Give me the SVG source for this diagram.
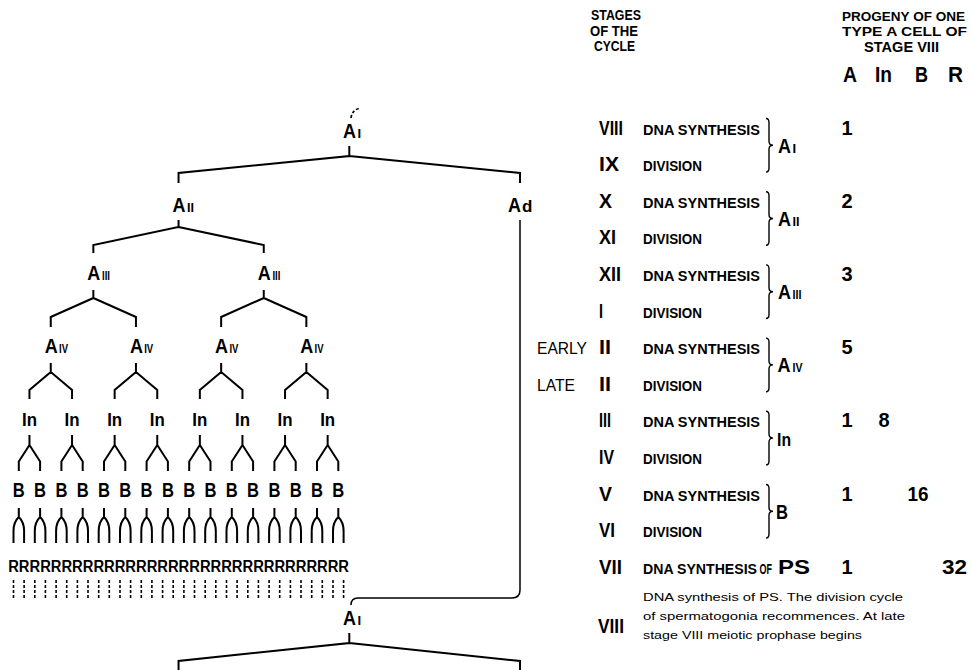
<svg xmlns="http://www.w3.org/2000/svg" width="972" height="670" viewBox="0 0 972 670">
<style>
.ln{fill:none;stroke:#000;stroke-width:2;stroke-linejoin:miter}
.thin{fill:none;stroke:#000;stroke-width:1.5}
.dash{fill:none;stroke:#000;stroke-width:1.6;stroke-dasharray:3 2}
.br{fill:none;stroke:#000;stroke-width:1.4}
text{font-family:"Liberation Sans",Arial,sans-serif;fill:#000}
.A{font-size:21px;font-weight:bold}
.sub{font-size:13px;font-weight:bold}
.lbl{font-size:19px;font-weight:bold}
.Bn{font-size:20px;font-weight:bold}
.R{font-size:16px;font-weight:bold}
.hdr{font-size:15px;font-weight:bold}
.hdr2{font-size:13.5px;font-weight:bold}
.col{font-size:22px;font-weight:bold}
.rn{font-size:20px;font-weight:bold}
.dna{font-size:14px;font-weight:bold}
.num{font-size:20px;font-weight:bold}
.el{font-size:17px}
.para{font-size:11.5px}
</style>
<rect width="972" height="670" fill="#fff"/>
<g id="connectors">
<path class="ln" d="M349.3,146 V156 L178.55,173 V183 M349.3,156 L520,173 V183"/>
<path class="ln" d="M178.55,220 V227 L93.35,245 V253 M178.55,227 L263.75,245 V253"/>
<path class="ln" d="M93.35,290 V298 L50.75,317 V327 M93.35,298 L135.95,317 V327 M263.75,290 V298 L221.15,317 V327 M263.75,298 L306.35,317 V327"/>
<path class="ln" d="M50.75,363 V372 L29.45,390 V399 M50.75,372 L72.05,390 V399 M135.95,363 V372 L114.65,390 V399 M135.95,372 L157.25,390 V399 M221.15,363 V372 L199.85,390 V399 M221.15,372 L242.45,390 V399 M306.35,363 V372 L285.05,390 V399 M306.35,372 L327.65,390 V399"/>
<path class="ln" d="M29.45,435 V445 L18.8,461.5 V471 M29.45,445 L40.1,461.5 V471 M72.05,435 V445 L61.4,461.5 V471 M72.05,445 L82.7,461.5 V471 M114.65,435 V445 L104,461.5 V471 M114.65,445 L125.3,461.5 V471 M157.25,435 V445 L146.6,461.5 V471 M157.25,445 L167.9,461.5 V471 M199.85,435 V445 L189.2,461.5 V471 M199.85,445 L210.5,461.5 V471 M242.45,435 V445 L231.8,461.5 V471 M242.45,445 L253.1,461.5 V471 M285.05,435 V445 L274.4,461.5 V471 M285.05,445 L295.7,461.5 V471 M327.65,435 V445 L317,461.5 V471 M327.65,445 L338.3,461.5 V471"/>
<path class="ln" d="M18.8,508 V517 M13.5,543 V531 Q13.5,522 18.8,517 Q24.1,522 24.1,531 V543 M40.1,508 V517 M34.8,543 V531 Q34.8,522 40.1,517 Q45.4,522 45.4,531 V543 M61.4,508 V517 M56.1,543 V531 Q56.1,522 61.4,517 Q66.7,522 66.7,531 V543 M82.7,508 V517 M77.4,543 V531 Q77.4,522 82.7,517 Q88,522 88,531 V543 M104,508 V517 M98.7,543 V531 Q98.7,522 104,517 Q109.3,522 109.3,531 V543 M125.3,508 V517 M120,543 V531 Q120,522 125.3,517 Q130.6,522 130.6,531 V543 M146.6,508 V517 M141.3,543 V531 Q141.3,522 146.6,517 Q151.9,522 151.9,531 V543 M167.9,508 V517 M162.6,543 V531 Q162.6,522 167.9,517 Q173.2,522 173.2,531 V543 M189.2,508 V517 M183.9,543 V531 Q183.9,522 189.2,517 Q194.5,522 194.5,531 V543 M210.5,508 V517 M205.2,543 V531 Q205.2,522 210.5,517 Q215.8,522 215.8,531 V543 M231.8,508 V517 M226.5,543 V531 Q226.5,522 231.8,517 Q237.1,522 237.1,531 V543 M253.1,508 V517 M247.8,543 V531 Q247.8,522 253.1,517 Q258.4,522 258.4,531 V543 M274.4,508 V517 M269.1,543 V531 Q269.1,522 274.4,517 Q279.7,522 279.7,531 V543 M295.7,508 V517 M290.4,543 V531 Q290.4,522 295.7,517 Q301,522 301,531 V543 M317,508 V517 M311.7,543 V531 Q311.7,522 317,517 Q322.3,522 322.3,531 V543 M338.3,508 V517 M333,543 V531 Q333,522 338.3,517 Q343.6,522 343.6,531 V543"/>
<path class="dash" d="M13.5,580 V598 M24.1,580 V598 M34.8,580 V598 M45.4,580 V598 M56.1,580 V598 M66.7,580 V598 M77.4,580 V598 M88,580 V598 M98.7,580 V598 M109.3,580 V598 M120,580 V598 M130.6,580 V598 M141.3,580 V598 M151.9,580 V598 M162.6,580 V598 M173.2,580 V598 M183.9,580 V598 M194.5,580 V598 M205.2,580 V598 M215.8,580 V598 M226.5,580 V598 M237.1,580 V598 M247.8,580 V598 M258.4,580 V598 M269.1,580 V598 M279.7,580 V598 M290.4,580 V598 M301,580 V598 M311.7,580 V598 M322.3,580 V598 M333,580 V598 M343.6,580 V598"/>
<path class="thin" d="M520,220 V590 Q520,598 512,598 H358 Q351,598 351,605"/>
<path class="ln" d="M349.3,633 V643 L178.55,661 V672 M349.3,643 L520,661 V672"/>
<path class="dash" stroke-width="1.3" stroke-dasharray="2.5 2" d="M351,118 Q352,110 360,108"/>
</g>
<g id="n-AI-top"><text class="A" x="343" y="138" textLength="13" lengthAdjust="spacingAndGlyphs">A</text><text class="sub" x="357.5" y="138">I</text></g>
<g id="n-AII"><text class="A" x="172.5" y="212" textLength="13" lengthAdjust="spacingAndGlyphs">A</text><text class="sub" x="187" y="212" textLength="7" lengthAdjust="spacingAndGlyphs">II</text></g>
<g id="n-Ad"><text class="A" x="508" y="212" textLength="13" lengthAdjust="spacingAndGlyphs">A</text><text x="522" y="212" font-size="17" font-weight="bold">d</text></g>
<g id="n-AIII-1"><text class="A" x="87.3" y="280" textLength="13" lengthAdjust="spacingAndGlyphs">A</text><text class="sub" x="102" y="280" textLength="8" lengthAdjust="spacingAndGlyphs">III</text></g>
<g id="n-AIII-2"><text class="A" x="257.7" y="280" textLength="13" lengthAdjust="spacingAndGlyphs">A</text><text class="sub" x="272.4" y="280" textLength="8" lengthAdjust="spacingAndGlyphs">III</text></g>
<g id="n-AIV-1"><text class="A" x="44.7" y="353" textLength="13" lengthAdjust="spacingAndGlyphs">A</text><text class="sub" x="59" y="353" textLength="9" lengthAdjust="spacingAndGlyphs">IV</text></g>
<g id="n-AIV-2"><text class="A" x="129.9" y="353" textLength="13" lengthAdjust="spacingAndGlyphs">A</text><text class="sub" x="144.2" y="353" textLength="9" lengthAdjust="spacingAndGlyphs">IV</text></g>
<g id="n-AIV-3"><text class="A" x="215.1" y="353" textLength="13" lengthAdjust="spacingAndGlyphs">A</text><text class="sub" x="229.4" y="353" textLength="9" lengthAdjust="spacingAndGlyphs">IV</text></g>
<g id="n-AIV-4"><text class="A" x="300.3" y="353" textLength="13" lengthAdjust="spacingAndGlyphs">A</text><text class="sub" x="314.6" y="353" textLength="9" lengthAdjust="spacingAndGlyphs">IV</text></g>
<g id="n-In" text-anchor="middle">
<text class="lbl" x="29.45" y="426" textLength="15" lengthAdjust="spacingAndGlyphs">In</text>
<text class="lbl" x="72.05" y="426" textLength="15" lengthAdjust="spacingAndGlyphs">In</text>
<text class="lbl" x="114.65" y="426" textLength="15" lengthAdjust="spacingAndGlyphs">In</text>
<text class="lbl" x="157.25" y="426" textLength="15" lengthAdjust="spacingAndGlyphs">In</text>
<text class="lbl" x="199.85" y="426" textLength="15" lengthAdjust="spacingAndGlyphs">In</text>
<text class="lbl" x="242.45" y="426" textLength="15" lengthAdjust="spacingAndGlyphs">In</text>
<text class="lbl" x="285.05" y="426" textLength="15" lengthAdjust="spacingAndGlyphs">In</text>
<text class="lbl" x="327.65" y="426" textLength="15" lengthAdjust="spacingAndGlyphs">In</text>
</g>
<g id="n-B" text-anchor="middle">
<text class="Bn" x="18.8" y="497" textLength="12" lengthAdjust="spacingAndGlyphs">B</text>
<text class="Bn" x="40.1" y="497" textLength="12" lengthAdjust="spacingAndGlyphs">B</text>
<text class="Bn" x="61.4" y="497" textLength="12" lengthAdjust="spacingAndGlyphs">B</text>
<text class="Bn" x="82.7" y="497" textLength="12" lengthAdjust="spacingAndGlyphs">B</text>
<text class="Bn" x="104" y="497" textLength="12" lengthAdjust="spacingAndGlyphs">B</text>
<text class="Bn" x="125.3" y="497" textLength="12" lengthAdjust="spacingAndGlyphs">B</text>
<text class="Bn" x="146.6" y="497" textLength="12" lengthAdjust="spacingAndGlyphs">B</text>
<text class="Bn" x="167.9" y="497" textLength="12" lengthAdjust="spacingAndGlyphs">B</text>
<text class="Bn" x="189.2" y="497" textLength="12" lengthAdjust="spacingAndGlyphs">B</text>
<text class="Bn" x="210.5" y="497" textLength="12" lengthAdjust="spacingAndGlyphs">B</text>
<text class="Bn" x="231.8" y="497" textLength="12" lengthAdjust="spacingAndGlyphs">B</text>
<text class="Bn" x="253.1" y="497" textLength="12" lengthAdjust="spacingAndGlyphs">B</text>
<text class="Bn" x="274.4" y="497" textLength="12" lengthAdjust="spacingAndGlyphs">B</text>
<text class="Bn" x="295.7" y="497" textLength="12" lengthAdjust="spacingAndGlyphs">B</text>
<text class="Bn" x="317" y="497" textLength="12" lengthAdjust="spacingAndGlyphs">B</text>
<text class="Bn" x="338.3" y="497" textLength="12" lengthAdjust="spacingAndGlyphs">B</text>
</g>
<g id="n-R"><text class="R" x="8.2" y="572" textLength="340.8" lengthAdjust="spacingAndGlyphs">RRRRRRRRRRRRRRRRRRRRRRRRRRRRRRRR</text></g>
<g id="n-AI-bottom"><text class="A" x="343" y="625" textLength="13" lengthAdjust="spacingAndGlyphs">A</text><text class="sub" x="357.5" y="625">I</text></g>
<g id="header-stages">
<text class="hdr" x="591" y="20" textLength="50" lengthAdjust="spacingAndGlyphs">STAGES</text>
<text class="hdr" x="590" y="35.5" textLength="48" lengthAdjust="spacingAndGlyphs">OF THE</text>
<text class="hdr" x="594" y="51" textLength="41" lengthAdjust="spacingAndGlyphs">CYCLE</text>
</g>
<g id="header-progeny">
<text class="hdr2" x="842" y="20.5" textLength="123" lengthAdjust="spacingAndGlyphs">PROGENY OF ONE</text>
<text class="hdr2" x="842" y="36" textLength="125" lengthAdjust="spacingAndGlyphs">TYPE A CELL OF</text>
<text class="hdr" x="864" y="51.5" textLength="75" lengthAdjust="spacingAndGlyphs">STAGE VIII</text>
<g text-anchor="middle">
<text class="col" x="850" y="82" textLength="14" lengthAdjust="spacingAndGlyphs">A</text>
<text class="col" x="883.5" y="82" textLength="17" lengthAdjust="spacingAndGlyphs">In</text>
<text class="col" x="921.5" y="82" textLength="13" lengthAdjust="spacingAndGlyphs">B</text>
<text class="col" x="955.5" y="82" textLength="15" lengthAdjust="spacingAndGlyphs">R</text>
</g>
</g>
<g id="stage-labels">
<text class="rn" x="599" y="134.5" textLength="24" lengthAdjust="spacingAndGlyphs">VIII</text>
<text class="rn" x="599" y="171.1" textLength="20" lengthAdjust="spacingAndGlyphs">IX</text>
<text class="rn" x="599" y="207.7" textLength="13" lengthAdjust="spacingAndGlyphs">X</text>
<text class="rn" x="599" y="244.3" textLength="17" lengthAdjust="spacingAndGlyphs">XI</text>
<text class="rn" x="599" y="280.9" textLength="22" lengthAdjust="spacingAndGlyphs">XII</text>
<text class="rn" x="599" y="317.5" textLength="4" lengthAdjust="spacingAndGlyphs">I</text>
<text class="rn" x="599" y="354.1" textLength="12" lengthAdjust="spacingAndGlyphs">II</text>
<text class="rn" x="599" y="390.7" textLength="12" lengthAdjust="spacingAndGlyphs">II</text>
<text class="rn" x="599" y="427.3" textLength="12" lengthAdjust="spacingAndGlyphs">III</text>
<text class="rn" x="599" y="463.9" textLength="15" lengthAdjust="spacingAndGlyphs">IV</text>
<text class="rn" x="599" y="500.5" textLength="13" lengthAdjust="spacingAndGlyphs">V</text>
<text class="rn" x="599" y="537.1" textLength="16" lengthAdjust="spacingAndGlyphs">VI</text>
<text class="rn" x="599" y="573.7" textLength="23" lengthAdjust="spacingAndGlyphs">VII</text>
<text class="rn" x="598" y="633" textLength="26" lengthAdjust="spacingAndGlyphs">VIII</text>
<text class="el" x="537" y="354.1" textLength="50" lengthAdjust="spacingAndGlyphs">EARLY</text>
<text class="el" x="537" y="390.7" textLength="38" lengthAdjust="spacingAndGlyphs">LATE</text>
</g>
<g id="stage-events">
<text class="dna" x="643" y="134.5" textLength="117" lengthAdjust="spacingAndGlyphs">DNA SYNTHESIS</text>
<text class="dna" x="643" y="171.1" textLength="59" lengthAdjust="spacingAndGlyphs">DIVISION</text>
<text class="dna" x="643" y="207.7" textLength="117" lengthAdjust="spacingAndGlyphs">DNA SYNTHESIS</text>
<text class="dna" x="643" y="244.3" textLength="59" lengthAdjust="spacingAndGlyphs">DIVISION</text>
<text class="dna" x="643" y="280.9" textLength="117" lengthAdjust="spacingAndGlyphs">DNA SYNTHESIS</text>
<text class="dna" x="643" y="317.5" textLength="59" lengthAdjust="spacingAndGlyphs">DIVISION</text>
<text class="dna" x="643" y="354.1" textLength="117" lengthAdjust="spacingAndGlyphs">DNA SYNTHESIS</text>
<text class="dna" x="643" y="390.7" textLength="59" lengthAdjust="spacingAndGlyphs">DIVISION</text>
<text class="dna" x="643" y="427.3" textLength="117" lengthAdjust="spacingAndGlyphs">DNA SYNTHESIS</text>
<text class="dna" x="643" y="463.9" textLength="59" lengthAdjust="spacingAndGlyphs">DIVISION</text>
<text class="dna" x="643" y="500.5" textLength="117" lengthAdjust="spacingAndGlyphs">DNA SYNTHESIS</text>
<text class="dna" x="643" y="537.1" textLength="59" lengthAdjust="spacingAndGlyphs">DIVISION</text>
<text class="dna" x="643" y="573.7" textLength="114" lengthAdjust="spacingAndGlyphs">DNA SYNTHESIS</text>
<text class="dna" x="759.5" y="573.7" textLength="12.5" lengthAdjust="spacingAndGlyphs">OF</text>
<text class="A" x="778" y="573.7" textLength="32" lengthAdjust="spacingAndGlyphs">PS</text>
<text class="para" x="643" y="601" textLength="260" lengthAdjust="spacingAndGlyphs">DNA synthesis of PS. The division cycle</text>
<text class="para" x="643" y="620" textLength="262" lengthAdjust="spacingAndGlyphs">of spermatogonia recommences. At late</text>
<text class="para" x="643" y="639" textLength="219" lengthAdjust="spacingAndGlyphs">stage VIII meiotic prophase begins</text>
</g>
<g id="brackets">
<path class="br" d="M766,118.5 Q769,118.5 769,122.5 V141.3 Q769,145.3 773,145.3 Q769,145.3 769,149.3 V168.1 Q769,172.1 766,172.1"/>
<path class="br" d="M766,191.7 Q769,191.7 769,195.7 V214.5 Q769,218.5 773,218.5 Q769,218.5 769,222.5 V241.3 Q769,245.3 766,245.3"/>
<path class="br" d="M766,264.9 Q769,264.9 769,268.9 V287.7 Q769,291.7 773,291.7 Q769,291.7 769,295.7 V314.5 Q769,318.5 766,318.5"/>
<path class="br" d="M766,338.1 Q769,338.1 769,342.1 V360.9 Q769,364.9 773,364.9 Q769,364.9 769,368.9 V387.7 Q769,391.7 766,391.7"/>
<path class="br" d="M766,411.3 Q769,411.3 769,415.3 V434.1 Q769,438.1 773,438.1 Q769,438.1 769,442.1 V460.9 Q769,464.9 766,464.9"/>
<path class="br" d="M766,484.5 Q769,484.5 769,488.5 V507.3 Q769,511.3 773,511.3 Q769,511.3 769,515.3 V534.1 Q769,538.1 766,538.1"/>
<g id="bl-AI"><text class="A" x="778" y="152.8" textLength="13" lengthAdjust="spacingAndGlyphs">A</text><text class="sub" x="792.5" y="152.8">I</text></g>
<g id="bl-AII"><text class="A" x="778" y="226" textLength="13" lengthAdjust="spacingAndGlyphs">A</text><text class="sub" x="792.5" y="226" textLength="7" lengthAdjust="spacingAndGlyphs">II</text></g>
<g id="bl-AIII"><text class="A" x="778" y="299.2" textLength="13" lengthAdjust="spacingAndGlyphs">A</text><text class="sub" x="792.5" y="299.2" textLength="9" lengthAdjust="spacingAndGlyphs">III</text></g>
<g id="bl-AIV"><text class="A" x="777.5" y="372.4" textLength="13" lengthAdjust="spacingAndGlyphs">A</text><text class="sub" x="792.5" y="372.4" textLength="10" lengthAdjust="spacingAndGlyphs">IV</text></g>
<g id="bl-In"><text class="lbl" x="777" y="445.6" font-size="20" textLength="14" lengthAdjust="spacingAndGlyphs">In</text></g>
<g id="bl-B"><text class="Bn" x="776" y="518.8" font-size="21" textLength="12" lengthAdjust="spacingAndGlyphs">B</text></g>
</g>
<g id="progeny-numbers" text-anchor="middle">
<text class="num" x="847" y="134.5">1</text>
<text class="num" x="847" y="207.7">2</text>
<text class="num" x="847" y="280.9">3</text>
<text class="num" x="847" y="354.1">5</text>
<text class="num" x="847" y="427.3">1</text>
<text class="num" x="884" y="427.3">8</text>
<text class="num" x="847" y="500.5">1</text>
<text class="num" x="918" y="500.5" textLength="21" lengthAdjust="spacingAndGlyphs">16</text>
<text class="num" x="847" y="573.7">1</text>
<text class="num" x="954.5" y="573.7" textLength="25" lengthAdjust="spacingAndGlyphs">32</text>
</g>
</svg>
